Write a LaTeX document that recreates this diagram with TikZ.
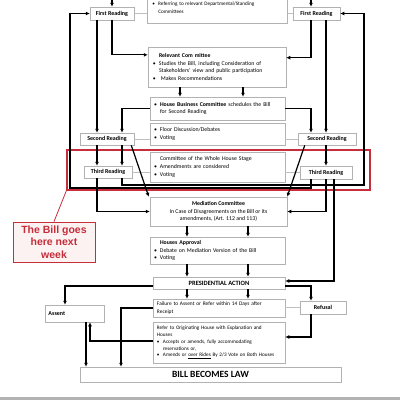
\documentclass[tikz,border=0pt]{standalone}
\usepackage{fontspec}
\setmainfont{Carlito}
\newfontfamily\arialf{Liberation Sans}
\usetikzlibrary{arrows.meta,calc}
\definecolor{callred}{RGB}{196,45,58}
\definecolor{framered}{RGB}{200,45,60}
\definecolor{callfill}{RGB}{253,242,242}
\newcommand\bul{\makebox[6pt][l]{\textbullet}}
\newcommand\ind{\hspace*{6pt}}
\begin{document}
\begin{tikzpicture}[x=1pt,y=-1pt,
 box/.style={draw=gray!60, fill=white, line width=0.5pt, inner sep=0pt, font=\fontsize{5.8}{7.6}\selectfont},
 lbox/.style={box, align=left},
 rbox/.style={box, font=\fontsize{6}{7}\selectfont\bfseries},
 arr/.style={-{Latex[length=4pt,width=4pt]}, line width=1.2pt},
 thinln/.style={draw=gray!50, line width=0.5pt},
]
\useasboundingbox (0,0) rectangle (400,400);
\clip (0,0) rectangle (400,400);
\fill[white] (0,0) rectangle (400,400);

% red frame
\node[draw=framered, line width=1.2pt, minimum width=303, minimum height=40, inner sep=0] (frame) at (218.5,170) {};

% centre column
\node[lbox, minimum width=140, minimum height=35, text width=130, anchor=south west, font=\fontsize{5.2}{8}\selectfont] (top) at (147,23) {\mbox{}\\\bul Referring to relevant Departmental/Standing\\\ind Committees};
\node[lbox, minimum width=138, minimum height=40, text width=128] (rel) at (217,67) {\ind\textbf{Relevant Com mittee}\\\bul Studies the Bill, including Consideration of\\\ind Stakeholders' view and public participation\\\bul\ Makes Recommendations};
\node[lbox, minimum width=135, minimum height=23, text width=127] (hbc) at (217.5,108.5) {\bul\textbf{House Business Committee} schedules the Bill\\\ind for Second Reading};
\node[lbox, minimum width=135, minimum height=22, text width=127] (floor) at (217.5,134) {\bul Floor Discussion/Debates\\\bul Voting};
\node[lbox, minimum width=135, minimum height=30, text width=127] (cow) at (217.5,167) {\ind Committee of the Whole House Stage\\\bul Amendments are considered\\\bul Voting};
\node[box, align=center, minimum width=137, minimum height=29] (med) at (218.5,211.5) {\textbf{Mediation Committee}\\In Case of Disagreements on the Bill or its\\amendments, (Art. 112 and 113)};
\node[lbox, minimum width=135, minimum height=27, text width=127] (hap) at (217.5,250.5) {\ind\textbf{Houses Approval}\\\bul Debate on Mediation Version of the Bill\\\bul Voting};
\node[box, minimum width=132, minimum height=12, font=\fontsize{6.5}{7}\selectfont\bfseries] (pres) at (219,283) {PRESIDENTIAL ACTION};
\node[lbox, minimum width=132, minimum height=18, text width=124, font=\fontsize{5.4}{7.4}\selectfont] (fail) at (219,308) {Failure to Assent or Refer within 14 Days after\\Receipt};
\node[lbox, minimum width=132, minimum height=41, text width=124, font=\fontsize{5.2}{6.8}\selectfont] (refer) at (219,342.5) {Refer to Originating House with Explanation and\\Houses\\\bul Accepts or amends, fully accommodating\\\ind reservations or,\\\bul Amends or \underline{over Rides} By 2/3 Vote on Both Houses};
\node[rbox, minimum width=46, minimum height=13] (refusal) at (323,307.5) {Refusal};
\node[rbox, align=left, minimum width=59, minimum height=17, text width=52] (assent) at (74.5,313.5) {Assent};
\node[box, minimum width=261, minimum height=15, font=\fontsize{9.5}{10}\selectfont\bfseries] (law) at (210.5,374.5) {BILL BECOMES LAW};

% reading boxes
\node[rbox, minimum width=44, minimum height=13] (lfr) at (112,13.5) {First Reading};
\node[rbox, minimum width=47, minimum height=13] (rfr) at (316.5,13.5) {First Reading};
\node[rbox, minimum width=54, minimum height=12] (lsr) at (107,139) {Second Reading};
\node[rbox, minimum width=58, minimum height=12] (rsr) at (327,139) {Second Reading};
\node[rbox, minimum width=48, minimum height=12] (ltr) at (108,172) {Third Reading};
\node[rbox, minimum width=52, minimum height=13] (rtr) at (326,172.5) {Third Reading};

% callout
\node[draw=framered, fill=callfill, line width=0.8pt, minimum width=82, minimum height=40, inner sep=0, align=center, text=callred, font=\arialf\bfseries\fontsize{10.5}{12.5}\selectfont] (call) at (54,242) {The Bill goes\\here next\\week};
\draw[framered, line width=0.8pt] (call.north) -- (frame.south west);

% coordinates
\coordinate (ltop) at (112,0);
\coordinate (rtop) at (311,0);
\coordinate (xl1) at (97,0);
\coordinate (xl2) at (122,0);
\coordinate (xr1) at (311,0);
\coordinate (xr2) at (326,0);
\coordinate (xr3) at (334,0);
\coordinate (loopR) at (364,185);
\coordinate (loopL) at (70,188);
\coordinate (xa1) at (65,0);
\coordinate (xa2) at (86,0);
\coordinate (xa3) at (90,0);
\coordinate (xa4) at (121,0);
\coordinate (xc1) at (187,0);
\coordinate (xc2) at (248,0);
\coordinate (xc3) at (180,0);
\coordinate (xc4) at (243,0);

% thin links
\draw[thinln] (lfr.east) -- (top.west |- lfr.east);
\draw[thinln] (rfr.west) -- (top.east |- rfr.west);
\draw[thinln] (lsr.east) -- (floor.west |- lsr.east);
\draw[thinln] (rsr.west) -- (floor.east |- rsr.west);
\draw[thinln] (ltr.east) -- (cow.west |- ltr.east);
\draw[thinln] (rtr.west) -- (cow.east |- rtr.west);
\draw[thinln] (refusal.west) -- (fail.east |- refusal.west);

% left house
\draw[arr] (ltop) -- (lfr.north);
\draw[arr] (lfr.south) |- ($(rel.north west)!0.2!(rel.south west)$);
\draw[arr] (xl1 |- lfr.south) -- (xl1 |- lsr.north);
\draw[arr] (hbc.west) -| (xl2 |- lsr.north);
\draw[arr] (xl1 |- lsr.south) -- (xl1 |- ltr.north);
\draw[arr] (xl2 |- lsr.south) -- (xl2 |- ltr.north);
\draw[arr] ($(lsr.south east)+(-3,0)$) -- ($(med.north west)+(-1,0)$);
\draw[arr] (xl1 |- ltr.south) |- (med.west);
\draw[arr] (xl2 |- ltr.south) |- (loopR) |- (rfr.east);

% right house
\draw[arr] (rtop) -- (rtop |- rfr.north);
\draw[arr] (xr1 |- rfr.south) |- ($(rel.north east)!0.27!(rel.south east)$);
\draw[arr] (xr2 |- rfr.south) -- (xr2 |- rsr.north);
\draw[arr] (hbc.east) -| (xr1 |- rsr.north);
\draw[arr] (xr2 |- rsr.south) -- (xr2 |- rtr.north);
\draw[arr] ($(rsr.south west)+(7,0)$) -- (med.north east);
\draw[arr] (xr2 |- rtr.south) |- (med.east);
\draw[arr] (xr3 |- rtr.south) |- ($(pres.east)+(0,-2)$);
\draw[arr] (xr1 |- rtr.south) |- (loopL) |- (lfr.west);

% centre
\draw[arr] (xc3 |- rel.south) -- (xc3 |- hbc.north);
\draw[arr] (xc4 |- rel.south) -- (xc4 |- hbc.north);
\draw[arr] (xc1 |- med.south) -- (xc1 |- hap.north);
\draw[arr] (xc2 |- med.south) -- (xc2 |- hap.north);
\draw[arr] (xc1 |- hap.south) -- (xc1 |- pres.north);
\draw[arr] (xc2 |- hap.south) -- (xc2 |- pres.north);
\draw[arr] (xc1 |- pres.south) -- (xc1 |- fail.north);
\draw[arr] (xc2 |- pres.south) -- (xc2 |- fail.north);

% presidential action
\draw[arr] ($(pres.east)+(0,3)$) -| (xr1 |- refusal.north);
\draw[arr] (xr1 |- refusal.south) |- ($(refer.east)+(0,-5.5)$);
\draw[arr] ($(pres.west)+(0,3)$) -| (xa1 |- assent.north);
\draw[arr] (xa2 |- assent.south) -- (xa2 |- law.north);
\draw[arr] ($(refer.west)+(0,-1.5)$) -| (xa3 |- assent.south);
\draw[arr] (fail.west) -| (xa4 |- law.north);

% bottom band
\fill[gray!60] (0,397) rectangle (400,400);
\end{tikzpicture}
\end{document}
